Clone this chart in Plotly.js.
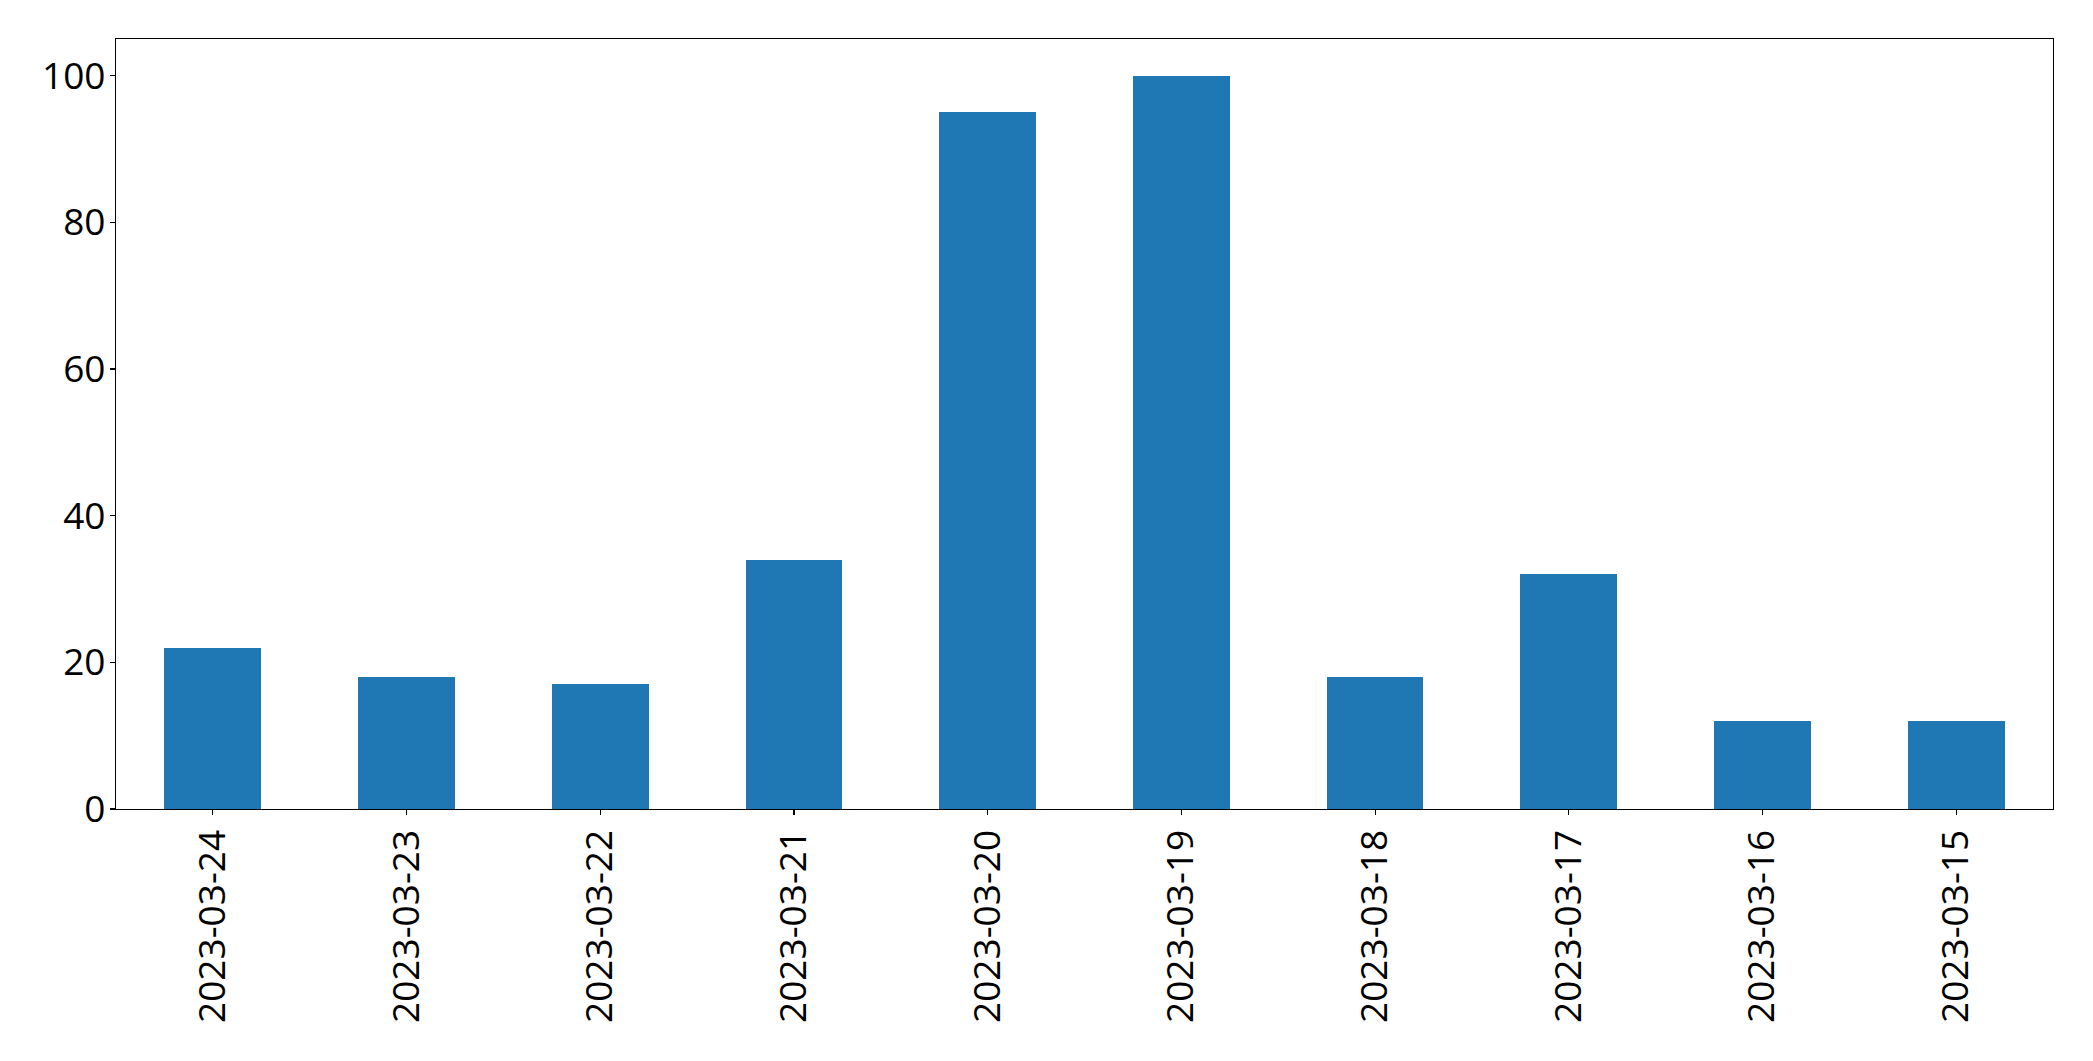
<!DOCTYPE html>
<html>
<head>
<meta charset="utf-8">
<script src="https://cdn.plot.ly/plotly-3.0.1.min.js"></script>
<style>html,body{margin:0;padding:0;background:#fff;}#chart{width:2093px;height:1061px;}</style>
</head>
<body>
<div id="chart"></div>
<script>
const dates = ["2023-03-24","2023-03-23","2023-03-22","2023-03-21","2023-03-20","2023-03-19","2023-03-18","2023-03-17","2023-03-16","2023-03-15"];
const counts = [22, 18, 17, 34, 95, 100, 18, 32, 12, 12];
const yTicks = [0, 20, 40, 60, 80, 100];

const trace = {
  type: 'bar',
  x: dates,
  y: counts,
  width: 0.5,
  marker: {color: '#1f77b4', line: {width: 0}},
  hoverinfo: 'x+y'
};

const font = {family: 'Open Sans, Noto Sans, sans-serif', size: 37, color: '#000'};

const layout = {
  width: 2093,
  height: 1061,
  margin: {l: 116, r: 40, t: 39, b: 252, pad: 0},
  paper_bgcolor: '#fff',
  plot_bgcolor: '#fff',
  showlegend: false,
  font: font,
  bargap: 0,
  xaxis: {
    type: 'category',
    range: [-0.5, 9.5],
    tickangle: -90,
    ticks: 'outside',
    ticklen: 5,
    tickwidth: 1.1,
    tickcolor: '#000',
    showline: true,
    linecolor: '#000',
    linewidth: 1.1,
    mirror: true,
    showgrid: false,
    zeroline: false,
    tickfont: font,
    ticklabelstandoff: 0
  },
  yaxis: {
    range: [0, 105],
    tickvals: yTicks,
    ticktext: yTicks.map(String),
    ticks: 'outside',
    ticklen: 5,
    tickwidth: 1.1,
    tickcolor: '#000',
    showline: true,
    linecolor: '#000',
    linewidth: 1.1,
    mirror: true,
    showgrid: false,
    zeroline: false,
    tickfont: font,
    ticklabelstandoff: -3
  }
};

Plotly.newPlot('chart', [trace], layout, {staticPlot: true, displayModeBar: false});
</script>
</body>
</html>
